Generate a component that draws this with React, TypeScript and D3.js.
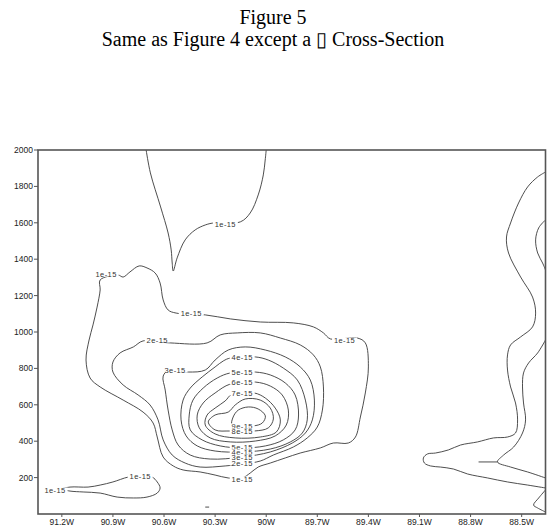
import React from "react";
import * as d3 from "d3";

// longitude in degrees W, height in m
type Pt = [number, number];

const xTicks = [91.2, 90.9, 90.6, 90.3, 90.0, 89.7, 89.4, 89.1, 88.8, 88.5];
const xTickLabels = ["91.2W", "90.9W", "90.6W", "90.3W", "90W", "89.7W", "89.4W", "89.1W", "88.8W", "88.5W"];
const yTicks = [200, 400, 600, 800, 1000, 1200, 1400, 1600, 1800, 2000];

// 1e-15, the V hanging from the top
const topV: Pt[] = [
  [90.705, 2000], [90.68, 1874], [90.62, 1687], [90.576, 1544], [90.558, 1451], [90.552, 1379],
  [90.546, 1335], [90.523, 1407], [90.476, 1506], [90.417, 1561], [90.358, 1588], [90.31, 1599],
  [90.152, 1605], [90.094, 1654], [90.047, 1753], [90.017, 1863], [90.006, 1945], [90.0, 2000],
];

// 1e-15, big outer loop
const outer1: Pt[] = [
  [90.87, 1313], [90.84, 1302], [90.8, 1330], [90.746, 1363], [90.7, 1352], [90.652, 1324],
  [90.623, 1269], [90.605, 1176], [90.576, 1121], [90.529, 1104], [90.358, 1094], [90.211, 1072],
  [90.035, 1055], [89.841, 1050], [89.723, 1028], [89.664, 995], [89.623, 962], [89.465, 967],
  [89.418, 940], [89.4, 808], [89.418, 665], [89.447, 533], [89.476, 423], [89.518, 390],
  [89.606, 390], [89.682, 363], [89.8, 335], [89.888, 308], [89.976, 280], [90.047, 258],
  [90.094, 225], [90.141, 198], [90.223, 198], [90.3, 214], [90.388, 231], [90.488, 242],
  [90.546, 264], [90.605, 313], [90.64, 423], [90.664, 500], [90.723, 560], [90.84, 626],
  [90.975, 698], [91.034, 747], [91.058, 846], [91.04, 956], [91.017, 1039], [90.993, 1137],
  [90.975, 1231], [90.975, 1286],
];

const level2: Pt[] = [
  [90.723, 951], [90.78, 918], [90.858, 885], [90.9, 835], [90.9, 780], [90.84, 709],
  [90.752, 654], [90.682, 599], [90.635, 517], [90.605, 407], [90.552, 324], [90.476, 280],
  [90.388, 258], [90.241, 264], [90.135, 275], [90.035, 291], [89.958, 324], [89.841, 368],
  [89.759, 418], [89.7, 478], [89.67, 571], [89.664, 698], [89.682, 808], [89.723, 874],
  [89.8, 929], [89.917, 967], [90.035, 995], [90.17, 995], [90.27, 984], [90.347, 940],
  [90.564, 940],
];

const level3: Pt[] = [
  [90.458, 780], [90.358, 791], [90.3, 846], [90.223, 901], [90.123, 918], [90.005, 901],
  [89.888, 863], [89.8, 808], [89.741, 736], [89.717, 626], [89.729, 517], [89.77, 445],
  [89.847, 390], [89.976, 341], [90.141, 313], [90.329, 302], [90.446, 324], [90.517, 379],
  [90.552, 462], [90.576, 571], [90.593, 681], [90.605, 758], [90.57, 791],
];

const level4: Pt[] = [
  [90.211, 857], [90.064, 863], [89.988, 846], [89.9, 802], [89.817, 736], [89.77, 626],
  [89.759, 517], [89.788, 445], [89.858, 396], [89.976, 357], [90.141, 341], [90.3, 346],
  [90.405, 374], [90.47, 429], [90.5, 517], [90.488, 626], [90.446, 692], [90.376, 753],
  [90.3, 808], [90.252, 841],
];

const level5: Pt[] = [
  [90.211, 775], [90.064, 780], [89.976, 764], [89.888, 720], [89.83, 654], [89.81, 544],
  [89.83, 462], [89.9, 407], [90.005, 374], [90.141, 363], [90.27, 374], [90.376, 407],
  [90.446, 462], [90.452, 544], [90.43, 626], [90.37, 692], [90.288, 747],
];

const level6: Pt[] = [
  [90.211, 714], [90.064, 725], [89.976, 703], [89.906, 654], [89.87, 571], [89.882, 489],
  [89.947, 429], [90.064, 401], [90.211, 396], [90.329, 418], [90.393, 473], [90.405, 544],
  [90.37, 610], [90.3, 665],
];

const level7: Pt[] = [
  [90.2, 659], [90.07, 665], [90.005, 637], [89.947, 582], [89.917, 517], [89.94, 451],
  [90.035, 423], [90.182, 418], [90.3, 440], [90.358, 489], [90.347, 544], [90.3, 582],
  [90.241, 621],
];

const level8: Pt[] = [
  [90.211, 456], [90.07, 456], [89.988, 473], [89.958, 522], [89.976, 582], [90.035, 626],
  [90.123, 632], [90.182, 599], [90.223, 560], [90.3, 544], [90.34, 506], [90.3, 462],
];

const level9: Pt[] = [
  [90.2, 489], [90.076, 484], [90.023, 500], [90.005, 539], [90.047, 577], [90.105, 588],
  [90.164, 571], [90.194, 533],
];

// 1e-15, small tongue near the ground on the left
const lowLeft: Pt[] = [
  [91.2, 137], [91.152, 148], [91.046, 148], [90.975, 159], [90.9, 176], [90.81, 203],
  [90.74, 209], [90.67, 203], [90.64, 176], [90.623, 143], [90.64, 115], [90.7, 93],
  [90.78, 88], [90.875, 93], [90.975, 115], [91.075, 121], [91.152, 126],
];

const speck: Pt[] = [[90.358, 38], [90.335, 38]];

// right edge contours
const right1: Pt[] = [
  [88.36, 1879], [88.406, 1852], [88.465, 1797], [88.518, 1709], [88.565, 1599], [88.589, 1522],
  [88.577, 1434], [88.506, 1302], [88.436, 1192], [88.418, 1104], [88.436, 1028], [88.506, 973],
  [88.565, 929], [88.583, 874], [88.583, 791], [88.565, 698], [88.536, 610], [88.524, 517],
  [88.536, 445], [88.583, 423], [88.665, 418], [88.759, 396], [88.859, 379], [88.93, 352],
  [89.006, 335], [89.053, 330], [89.077, 308], [89.071, 280], [89.035, 264], [88.977, 258],
  [88.9, 247], [88.818, 220], [88.7, 198], [88.583, 176], [88.465, 159], [88.36, 143],
];
const right2: Pt[] = [
  [88.36, 1616], [88.4, 1572], [88.418, 1506], [88.406, 1434], [88.377, 1379], [88.36, 1341],
];
const right3: Pt[] = [
  [88.36, 956], [88.406, 885], [88.459, 830], [88.489, 775], [88.495, 698], [88.489, 610],
  [88.477, 517], [88.495, 445], [88.547, 368], [88.606, 324], [88.642, 286], [88.565, 258],
  [88.465, 231], [88.36, 198],
];
const right3Spur: Pt[] = [[88.753, 286], [88.642, 286]];
const right4: Pt[] = [[88.36, 132], [88.4, 88], [88.43, 49], [88.406, 33], [88.36, 11]];

const closedLines = [outer1, level2, level3, level4, level5, level6, level7, level8, level9, lowLeft];
const openLines = [topV, speck, right1, right2, right3, right3Spur, right4];

// contour labels: lon W, height, text
const labels: [number, number, string][] = [
  [90.24, 1594, "1e-15"],
  [90.94, 1318, "1e-15"],
  [90.44, 1104, "1e-15"],
  [89.54, 956, "1e-15"],
  [90.64, 956, "2e-15"],
  [90.535, 791, "3e-15"],
  [90.141, 863, "4e-15"],
  [90.141, 780, "5e-15"],
  [90.141, 725, "6e-15"],
  [90.141, 665, "7e-15"],
  [90.141, 484, "9e-15"],
  [90.141, 456, "8e-15"],
  [90.141, 368, "5e-15"],
  [90.141, 341, "4e-15"],
  [90.141, 313, "3e-15"],
  [90.141, 280, "2e-15"],
  [90.141, 192, "1e-15"],
  [90.74, 209, "1e-15"],
  [91.24, 132, "1e-15"],
];

export default function App() {
  const W = 547;
  const H = 529;
  const left = 38, right = 545.5, top = 150, bottom = 514;

  const x = d3.scaleLinear().domain([91.34, 88.36]).range([left, right]);
  const y = d3.scaleLinear().domain([0, 2000]).range([bottom, top]);

  const openPath = d3.line<Pt>().x(d => x(d[0])).y(d => y(d[1])).curve(d3.curveCatmullRom.alpha(0.5));
  const closedPath = d3.line<Pt>().x(d => x(d[0])).y(d => y(d[1])).curve(d3.curveCatmullRomClosed.alpha(0.5));

  const tickFont = "'Liberation Sans', Arial, sans-serif";
  const serif = "'Liberation Serif', 'Times New Roman', serif";

  return (
    <svg width={W} height={H} style={{ position: "absolute", left: 0, top: 0, background: "#fff" }}>
      <text x={273} y={24} textAnchor="middle" fontFamily={serif} fontSize={20}>
        Figure 5
      </text>
      <text x={273} y={46} textAnchor="middle" fontFamily={serif} fontSize={20}>
        Same as Figure 4 except a {"\u25AF"} Cross-Section
      </text>

      <defs>
        <clipPath id="plot">
          <rect x={left} y={top} width={right - left} height={bottom - top} />
        </clipPath>
      </defs>

      <g clipPath="url(#plot)" fill="none" stroke="#3a3a3a" strokeWidth={0.9}>
        {closedLines.map((pts, i) => (
          <path key={"c" + i} d={closedPath(pts) || ""} />
        ))}
        {openLines.map((pts, i) => (
          <path key={"o" + i} d={openPath(pts) || ""} />
        ))}
      </g>

      <g fontFamily={tickFont} fontSize={7.5} fill="#333">
        {labels.map(([lon, h, t], i) => (
          <g key={"l" + i} transform={`translate(${x(lon)},${y(h)})`}>
            <rect x={-12.5} y={-2.5} width={25} height={5} fill="#fff" />
            <text textAnchor="middle" dy="0.35em" letterSpacing={0.4}>{t}</text>
          </g>
        ))}
      </g>

      <rect x={left} y={top} width={right - left} height={bottom - top} fill="none" stroke="#555" strokeWidth={1.6} />

      <g fontFamily={tickFont} fontSize={8.5} fill="#222">
        {yTicks.map(v => (
          <g key={"y" + v}>
            <line x1={left - 4} x2={left} y1={y(v)} y2={y(v)} stroke="#555" />
            <text x={left - 5} y={y(v)} dy="0.35em" textAnchor="end">{v}</text>
          </g>
        ))}
        {xTicks.map((v, i) => (
          <g key={"x" + v}>
            <line x1={x(v)} x2={x(v)} y1={bottom} y2={bottom + 3} stroke="#555" />
            <text x={x(v)} y={bottom + 11} textAnchor="middle">{xTickLabels[i]}</text>
          </g>
        ))}
      </g>
    </svg>
  );
}
